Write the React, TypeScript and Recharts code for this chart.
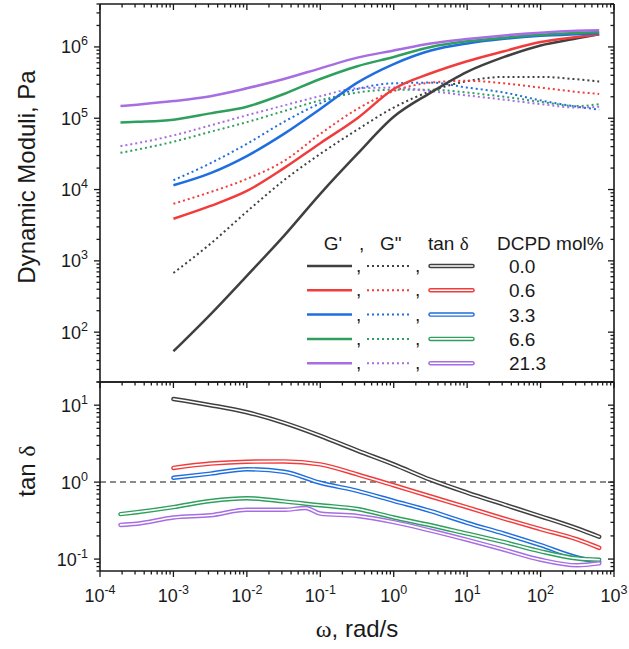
import React from 'react';
import { LineChart, Line, XAxis, YAxis, ReferenceLine, Legend } from 'recharts';

const FONT = '"Liberation Sans", Arial, sans-serif';
const SERIF = '"Liberation Serif", "DejaVu Serif", serif';
const INK = '#1a1a1a';

// angular frequency, rad/s
const omega = [0.00019, 0.00032, 0.001, 0.0032, 0.01, 0.032, 0.063, 0.1, 0.32, 1, 3.2, 10, 32, 100, 316, 628];

// DCPD content (mol%) and series colours
const dcpd = ['0.0', '0.6', '3.3', '6.6', '21.3'];
const colors = ['#404040', '#f23c3c', '#1f6ee0', '#2f9f5e', '#a66ee2'];

// storage modulus G' (Pa)
const gp00 = [null, null, 54, 178, 617, 2240, null, 8710, 31600, 105000, 229000, 447000, 724000, 1050000, 1320000, 1510000];
const gp06 = [null, null, 3890, 5890, 9550, 19950, null, 44700, 100000, 257000, 427000, 631000, 871000, 1170000, 1380000, 1510000];
const gp33 = [null, null, 11500, 17000, 29500, 60300, null, 135000, 316000, 575000, 891000, 1120000, 1300000, 1430000, 1510000, 1550000];
const gp66 = [87100, 89100, 95500, 117000, 145000, 219000, null, 355000, 537000, 724000, 1000000, 1200000, 1350000, 1480000, 1570000, 1620000];
const gp213 = [148000, 155000, 174000, 204000, 263000, 355000, null, 501000, 708000, 891000, 1120000, 1290000, 1450000, 1580000, 1680000, 1720000];

// loss modulus G'' (Pa)
const gpp00 = [null, null, 676, 1740, 4900, 13500, null, 31600, 69200, 141000, 240000, 331000, 380000, 380000, 351000, 327000];
const gpp06 = [null, null, 6310, 9230, 14100, 25100, null, 60300, 135000, 240000, 316000, 335000, 309000, 269000, 234000, 219000];
const gpp33 = [null, null, 13500, 23400, 43700, 89100, null, 162000, 257000, 309000, 316000, 269000, 229000, 178000, 145000, 132000];
const gpp66 = [32700, 36300, 46800, 64600, 88100, 126000, null, 178000, 229000, 251000, 251000, 229000, 200000, 170000, 148000, 158000];
const gpp213 = [40700, 44700, 57500, 79400, 110000, 151000, null, 204000, 263000, 269000, 240000, 209000, 182000, 158000, 141000, 145000];

// loss tangent tan δ
const tan00 = [null, null, 12.0, 10.0, 8.1, 5.9, null, 4.0, 2.57, 1.7, 1.07, 0.73, 0.51, 0.36, 0.25, 0.195];
const tan06 = [null, null, 1.53, 1.74, 1.84, 1.86, null, 1.7, 1.26, 0.91, 0.65, 0.47, 0.335, 0.245, 0.18, 0.14];
const tan33 = [null, null, 1.14, 1.29, 1.47, 1.36, null, 0.98, 0.77, 0.57, 0.42, 0.295, 0.214, 0.152, 0.105, 0.092];
const tan66 = [0.384, 0.407, 0.473, 0.569, 0.617, 0.562, null, 0.5, 0.447, 0.347, 0.275, 0.214, 0.166, 0.126, 0.102, 0.098];
const tan213 = [0.278, 0.288, 0.347, 0.372, 0.437, 0.437, 0.462, 0.39, 0.363, 0.302, 0.234, 0.178, 0.132, 0.098, 0.083, 0.088];

// tick labels (exponents of 10)
const xMajors = [1e-4, 1e-3, 1e-2, 1e-1, 1, 10, 100, 1000];
const xExp = ['-4', '-3', '-2', '-1', '0', '1', '2', '3'];
const topMajors = [1e2, 1e3, 1e4, 1e5, 1e6];
const topExp = ['2', '3', '4', '5', '6'];
const botMajors = [0.1, 1, 10];
const botExp = ['-1', '0', '1'];

const X_DOMAIN: [number, number] = [1e-4, 1e3];
const TOP_DOMAIN: [number, number] = [20, 4e6];
const BOT_DOMAIN: [number, number] = [0.07, 20];

const gPrime = [gp00, gp06, gp33, gp66, gp213];
const gDouble = [gpp00, gpp06, gpp33, gpp66, gpp213];
const tanD = [tan00, tan06, tan33, tan66, tan213];

const rows = omega.map((w, i) => {
  const r: Record<string, number | null> = { w };
  for (let k = 0; k < 5; k++) {
    r['gp' + k] = gPrime[k][i];
    r['gpp' + k] = gDouble[k][i];
    r['tan' + k] = tanD[k][i];
  }
  return r;
});

function logTicks(lo: number, hi: number): number[] {
  const out: number[] = [];
  const start = Math.floor(Math.log10(lo));
  const end = Math.ceil(Math.log10(hi));
  for (let e = start; e <= end; e++) {
    const d = Math.pow(10, e);
    for (let m = 1; m <= 9; m++) {
      const v = Number((m * d).toPrecision(6));
      if (v >= lo * 0.9999 && v <= hi * 1.0001) out.push(v);
    }
  }
  return out;
}

const xTicks = logTicks(X_DOMAIN[0], X_DOMAIN[1]);
const topTicks = logTicks(TOP_DOMAIN[0], TOP_DOMAIN[1]);
const botTicks = logTicks(BOT_DOMAIN[0], BOT_DOMAIN[1]);

type Side = 'left' | 'right' | 'top' | 'bottom';
const makeTick = (side: Side, inward: boolean, majors: number[], labels?: string[]) => (props: any) => {
  const { x, y, payload } = props;
  const v = Number(payload.value);
  const mi = majors.findIndex((m) => Math.abs(m - v) / m < 1e-6);
  const major = mi >= 0;
  const len = major ? 6 : 3.5;
  let x2 = x;
  let y2 = y;
  if (side === 'left') x2 = x + (inward ? len : -len);
  if (side === 'right') x2 = x + (inward ? -len : len);
  if (side === 'bottom') y2 = y + (inward ? -len : len);
  if (side === 'top') y2 = y + (inward ? len : -len);
  let label: React.ReactNode = null;
  if (major && labels) {
    if (side === 'left') {
      label = (
        <text x={x - 12} y={y + 6.5} textAnchor="end" fontSize={18} fontFamily={FONT} fill={INK}>
          10<tspan dy={-8} fontSize={12.5}>{labels[mi]}</tspan>
        </text>
      );
    } else if (side === 'bottom') {
      label = (
        <text x={x} y={y + 30.5} textAnchor="middle" fontSize={18} fontFamily={FONT} fill={INK}>
          10<tspan dy={-8} fontSize={12.5}>{labels[mi]}</tspan>
        </text>
      );
    }
  }
  return (
    <g>
      <line x1={x} y1={y} x2={x2} y2={y2} stroke={INK} strokeWidth={1.3} />
      {label}
    </g>
  );
};

const TickTopLeft = makeTick('left', false, topMajors, topExp);
const TickTopRight = makeTick('right', true, topMajors);
const TickTopTop = makeTick('top', true, xMajors);
const TickBotLeft = makeTick('left', false, botMajors, botExp);
const TickBotRight = makeTick('right', true, botMajors);
const TickBotTop = makeTick('top', true, xMajors);
const TickBotBottom = makeTick('bottom', false, xMajors, xExp);
const NoTick = () => <g />;

const axisLine = { stroke: INK, strokeWidth: 1.6 };

const ModuliLabel = (p: any) => {
  const vb = p.viewBox || { x: 0, y: 0 };
  const x = vb.x + 35;
  const y = vb.y + 173;
  return (
    <text x={x} y={y} transform={`rotate(-90 ${x} ${y})`} textAnchor="middle" fontSize={24} fontFamily={FONT} fill={INK}>
      Dynamic Moduli, Pa
    </text>
  );
};

const TanLabel = (p: any) => {
  const vb = p.viewBox || { x: 0, y: 0 };
  const x = vb.x + 35;
  const y = vb.y + 89;
  return (
    <text x={x} y={y} transform={`rotate(-90 ${x} ${y})`} textAnchor="middle" fontSize={24} fontFamily={FONT} fill={INK}>
      tan <tspan fontFamily={SERIF}>δ</tspan>
    </text>
  );
};

const OmegaLabel = (p: any) => {
  const vb = p.viewBox || { x: 0, y: 0, width: 0 };
  return (
    <text x={vb.x + vb.width / 2} y={vb.y + 66} textAnchor="middle" fontSize={24} fontFamily={FONT} fill={INK}>
      <tspan fontFamily={SERIF}>ω</tspan>, rad/s
    </text>
  );
};

const LegendBox = () => {
  const fs = 19;
  return (
    <svg width={320} height={150} style={{ overflow: 'visible' }}>
      <text x={33} y={22} textAnchor="middle" fontSize={fs} fontFamily={FONT} fill={INK}>G'</text>
      <text x={59} y={22} fontSize={fs} fontFamily={FONT} fill={INK}>,</text>
      <text x={80} y={22} fontSize={fs} fontFamily={FONT} fill={INK}>G"</text>
      <text x={128} y={22} fontSize={fs} fontFamily={FONT} fill={INK}>
        tan <tspan fontFamily={SERIF}>δ</tspan>
      </text>
      <text x={197} y={22} fontSize={fs} fontFamily={FONT} fill={INK}>DCPD mol%</text>
      {dcpd.map((name, k) => {
        const ly = 38 + k * 24.3;
        const c = colors[k];
        return (
          <g key={name}>
            <line x1={7} x2={52} y1={ly} y2={ly} stroke={c} strokeWidth={2.5} />
            <text x={56} y={ly + 6} fontSize={fs} fontFamily={FONT} fill={INK}>,</text>
            <line x1={67} x2={110} y1={ly} y2={ly} stroke={c} strokeWidth={2} strokeDasharray="2 3" />
            <text x={115} y={ly + 6} fontSize={fs} fontFamily={FONT} fill={INK}>,</text>
            <line x1={130.5} x2={172.5} y1={ly} y2={ly} stroke={c} strokeWidth={4.5} strokeLinecap="round" />
            <line x1={130.5} x2={172.5} y1={ly} y2={ly} stroke="#ffffff" strokeWidth={1.6} strokeLinecap="round" />
            <text x={209} y={ly + 7} fontSize={fs} fontFamily={FONT} fill={INK}>{name}</text>
          </g>
        );
      })}
    </svg>
  );
};

const xCommon = {
  dataKey: 'w',
  type: 'number' as const,
  scale: 'log' as const,
  domain: X_DOMAIN,
  allowDataOverflow: true,
  ticks: xTicks,
  tickLine: false,
  tickSize: 0,
  tickMargin: 0,
  height: 1,
  axisLine,
  interval: 0 as const,
};

export default function App() {
  return (
    <div style={{ position: 'absolute', left: 0, top: 0, width: 629, height: 649, background: '#ffffff' }}>
      <div style={{ position: 'absolute', left: 0, top: 0 }}>
        <LineChart width={629} height={400} data={rows} margin={{ top: 3, right: 14, bottom: 17, left: 0 }}>
          <XAxis xAxisId="b" {...xCommon} tick={NoTick} />
          <XAxis xAxisId="t" orientation="top" {...xCommon} tick={TickTopTop} />
          <YAxis
            yAxisId="l"
            type="number"
            scale="log"
            domain={TOP_DOMAIN}
            allowDataOverflow
            ticks={topTicks}
            tick={TickTopLeft}
            tickLine={false}
            tickSize={0}
            tickMargin={0}
            width={100}
            axisLine={axisLine}
            interval={0}
            label={<ModuliLabel />}
          />
          <YAxis
            yAxisId="r"
            orientation="right"
            type="number"
            scale="log"
            domain={TOP_DOMAIN}
            allowDataOverflow
            ticks={topTicks}
            tick={TickTopRight}
            tickLine={false}
            tickSize={0}
            tickMargin={0}
            width={1}
            axisLine={axisLine}
            interval={0}
          />
          {colors.map((c, k) => (
            <Line
              key={'gpp' + k}
              xAxisId="b"
              yAxisId="l"
              dataKey={'gpp' + k}
              type="monotone"
              stroke={c}
              strokeWidth={2}
              strokeDasharray="2 3"
              dot={false}
              activeDot={false}
              connectNulls
              isAnimationActive={false}
            />
          ))}
          {colors.map((c, k) => (
            <Line
              key={'gp' + k}
              xAxisId="b"
              yAxisId="l"
              dataKey={'gp' + k}
              type="monotone"
              stroke={c}
              strokeWidth={2.5}
              dot={false}
              activeDot={false}
              connectNulls
              isAnimationActive={false}
            />
          ))}
          <Legend
            content={<LegendBox />}
            layout="horizontal"
            verticalAlign="middle"
            align="center"
            wrapperStyle={{ position: 'absolute', left: 300, top: 228, width: 320, height: 150 }}
          />
        </LineChart>
      </div>
      <div style={{ position: 'absolute', left: 0, top: 0 }}>
        <LineChart width={629} height={649} data={rows} margin={{ top: 381, right: 14, bottom: 77, left: 0 }}>
          <XAxis xAxisId="b" {...xCommon} tick={TickBotBottom} label={<OmegaLabel />} />
          <XAxis xAxisId="t" orientation="top" {...xCommon} tick={TickBotTop} />
          <YAxis
            yAxisId="l"
            type="number"
            scale="log"
            domain={BOT_DOMAIN}
            allowDataOverflow
            ticks={botTicks}
            tick={TickBotLeft}
            tickLine={false}
            tickSize={0}
            tickMargin={0}
            width={100}
            axisLine={axisLine}
            interval={0}
            label={<TanLabel />}
          />
          <YAxis
            yAxisId="r"
            orientation="right"
            type="number"
            scale="log"
            domain={BOT_DOMAIN}
            allowDataOverflow
            ticks={botTicks}
            tick={TickBotRight}
            tickLine={false}
            tickSize={0}
            tickMargin={0}
            width={1}
            axisLine={axisLine}
            interval={0}
          />
          <ReferenceLine xAxisId="b" yAxisId="l" y={1} stroke="#8a8a8a" strokeWidth={2} strokeDasharray="6 4" />
          {colors.map((c, k) => (
            <React.Fragment key={'tan' + k}>
              <Line
                xAxisId="b"
                yAxisId="l"
                dataKey={'tan' + k}
                type="monotone"
                stroke={c}
                strokeWidth={4.5}
                strokeLinecap="round"
                strokeLinejoin="round"
                dot={false}
                activeDot={false}
                connectNulls
                isAnimationActive={false}
              />
              <Line
                xAxisId="b"
                yAxisId="l"
                dataKey={'tan' + k}
                type="monotone"
                stroke="#ffffff"
                strokeWidth={1.6}
                strokeLinecap="round"
                strokeLinejoin="round"
                dot={false}
                activeDot={false}
                connectNulls
                isAnimationActive={false}
              />
            </React.Fragment>
          ))}
        </LineChart>
      </div>
    </div>
  );
}
